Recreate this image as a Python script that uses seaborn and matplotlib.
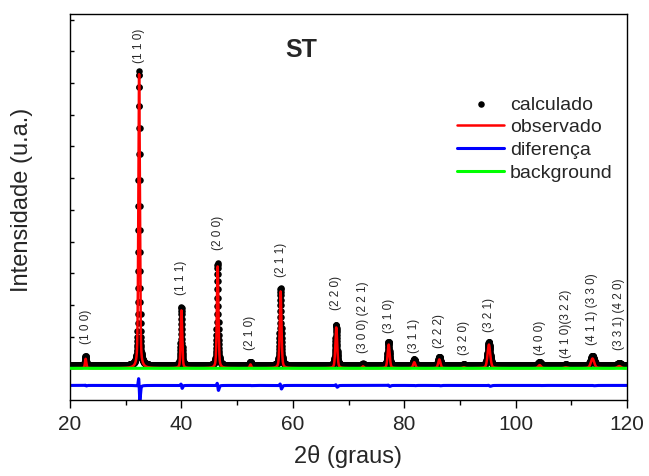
import numpy as np
import pandas as pd
import matplotlib
matplotlib.use("Agg")
import matplotlib.pyplot as plt
import seaborn as sns

# ---- data ----
peak_pos = [22.8, 32.4, 40.0, 46.5, 52.4, 57.8, 67.8, 72.6, 77.2, 81.8,
            86.3, 90.7, 95.2, 104.3, 109.0, 113.8, 118.6]
peak_height = [30, 930, 183, 322, 12, 243, 129, 6, 75, 19,
               28, 3, 75, 10, 3, 31, 7]
peak_fwhm = [0.28, 0.30, 0.30, 0.32, 0.33, 0.35, 0.38, 0.40, 0.42, 0.45,
             0.47, 0.50, 0.55, 0.60, 0.65, 0.70, 0.75]
hkl_labels = ["(1 0 0)", "(1 1 0)", "(1 1 1)", "(2 0 0)", "(2 1 0)", "(2 1 1)",
              "(2 2 0)", "(3 0 0) (2 2 1)", "(3 1 0)", "(3 1 1)", "(2 2 2)",
              "(3 2 0)", "(3 2 1)", "(4 0 0)", "(4 1 0)(3 2 2)",
              "(4 1 1) (3 3 0)", "(3 3 1) (4 2 0)"]
label_y = [76, 962, 230, 372, 57, 287, 183, 47, 110, 47, 63, 41, 114, 41, 32, 73, 57]

background_level = 0.0
calc_offset = 9.0
diff_offset = -54.0
fit_width_ratio = 1.03
fit_shift = 0.008
eta = 0.4
step = 0.02

# ---- build profiles ----
tt = np.arange(20.0, 120.0 + step / 2, step)


def pv(x, x0, h, fwhm):
    s = fwhm / 2.3548
    g = np.exp(-0.5 * ((x - x0) / s) ** 2)
    l = 1.0 / (1.0 + ((x - x0) / (fwhm / 2)) ** 2)
    return h * (eta * l + (1 - eta) * g)


calc = np.full_like(tt, background_level + calc_offset)
obs = np.full_like(tt, background_level)
for p, h, w in zip(peak_pos, peak_height, peak_fwhm):
    calc += pv(tt, p, h, w)
    obs += pv(tt, p + fit_shift, h, w * fit_width_ratio)
diff = (calc - calc_offset) - obs + diff_offset
bg = np.full_like(tt, background_level)

df = pd.DataFrame({"tt": tt, "calc": calc, "obs": obs, "diff": diff, "bg": bg})

# ---- plotting ----
sns.set_style("ticks")
plt.rcParams["font.family"] = ["Liberation Sans", "DejaVu Sans"]

fig = plt.figure(figsize=(6.49, 4.76), dpi=100)
ax = fig.add_axes([70 / 649, 1 - 400 / 476, 557 / 649, 386 / 476])

sns.scatterplot(data=df, x="tt", y="calc", color="black", s=22, linewidth=0,
                ax=ax, label="calculado", zorder=1)
sns.lineplot(data=df, x="tt", y="obs", color="red", linewidth=1.8,
             estimator=None, ax=ax, label="observado", zorder=2)
sns.lineplot(data=df, x="tt", y="diff", color="blue", linewidth=2.2,
             estimator=None, ax=ax, label="diferença", zorder=2)
sns.lineplot(data=df, x="tt", y="bg", color="#00ff00", linewidth=2.2,
             estimator=None, ax=ax, label="background", zorder=3)

for p, lab, ly in zip(peak_pos, hkl_labels, label_y):
    ax.text(p, ly, lab, rotation=90, ha="center", va="bottom", fontsize=8.5)

ax.text(61.5, 1003, "ST", fontsize=18, fontweight="bold", ha="center", va="center")

ax.set_xlim(20, 120)
ax.set_ylim(-100, 1118)
ax.set_xticks([20, 40, 60, 80, 100, 120])
ax.set_xticks([30, 50, 70, 90, 110], minor=True)
ax.set_yticks(np.arange(0, 1101, 100))
ax.set_yticklabels([])
ax.tick_params(axis="x", which="major", direction="out", length=6, width=1,
               labelsize=15, pad=5, color="black")
ax.tick_params(axis="x", which="minor", direction="out", length=3.5, width=1,
               color="black")
ax.tick_params(axis="y", which="major", direction="in", length=3, width=1,
               color="black", left=True, right=False)
for s in ax.spines.values():
    s.set_linewidth(1.0)
    s.set_color("black")

ax.set_xlabel("2θ (graus)", fontsize=17, labelpad=8)
ax.set_ylabel("Intensidade (u.a.)", fontsize=17)
ax.yaxis.set_label_coords(-0.066, 0.518)

leg = ax.legend(loc="upper left", bbox_to_anchor=(0.678, 0.813), frameon=False,
                fontsize=14, handlelength=2.4, handletextpad=0.3,
                labelspacing=0.26, borderpad=0, markerscale=1.0)

fig.savefig("out.png", dpi=100)
